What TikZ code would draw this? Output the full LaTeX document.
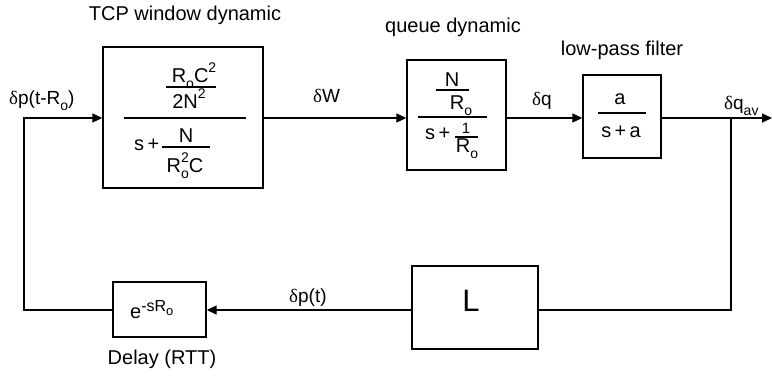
\documentclass[tikz,border=0pt]{standalone}
\usepackage{fontspec}
\setmainfont{Liberation Sans}
\newfontfamily\grk{Liberation Serif}
\usetikzlibrary{arrows.meta}
\newcommand{\dl}{{\grk δ}}
\newcommand{\sbs}[1]{\raisebox{-0.3em}{\fontsize{14}{14}\selectfont #1}}
\newcommand{\sps}[1]{\raisebox{0.5em}{\fontsize{14}{14}\selectfont #1}}
\begin{document}
\begin{tikzpicture}[x=1pt,y=-1pt,
  box/.style={draw, line width=1.4pt, inner sep=0pt},
  wire/.style={line width=1.2pt},
  arr/.style={wire, -{Triangle[length=10pt,width=9pt]}},
  bar/.style={line width=1.1pt},
  title/.style={inner sep=0pt, font=\fontsize{20}{24}\selectfont},
  lab/.style={inner sep=0pt, font=\fontsize{19}{22}\selectfont},
  mth/.style={inner sep=0pt, font=\fontsize{20}{22}\selectfont}]
\useasboundingbox (0,0) rectangle (772,377);
% boxes
\node[box, minimum width=160pt, minimum height=141pt] (tcp) at (183,117.5) {};
\node[box, minimum width=99pt, minimum height=110pt] (queue) at (456.5,115) {};
\node[box, minimum width=78pt, minimum height=83pt] (lpf) at (622,116.5) {};
\node[box, minimum width=126pt, minimum height=83pt] (lbox) at (475,307.5) {};
\node[box, minimum width=93pt, minimum height=55pt] (delay) at (159.5,309.5) {};
% titles
\node[title] (t1) at (185,15) {TCP window dynamic};
\node[title] (t2) at (453,27) {queue dynamic};
\node[title] (t3) at (622,50) {low-pass filter};
\node[title] (t4) at (162,359) {Delay (RTT)};
% TCP transfer function
\node[mth, anchor=base] (n1) at (194,83) {R\sbs{o}C\sps{2}};
\draw[bar] (166,87) -- (216,87);
\node[mth, anchor=base] (n2) at (189,109) {2N\sps{2}};
\draw[bar] (124,118) -- (246,118);
\node[mth, anchor=base west] (n3) at (134,151) {s\,+};
\node[mth, anchor=base] (n4) at (186,143) {N};
\draw[bar] (162,147) -- (210,147);
\node[mth, anchor=base] (n5) at (185,173) {R\rlap{\sps{2}}\sbs{o}C};
% queue transfer function
\node[mth, anchor=base] (q1) at (452,87) {N};
\draw[bar] (436,90) -- (469,90);
\node[mth, anchor=base] (q2) at (461,110) {R\sbs{o}};
\draw[bar] (418,117) -- (487,117);
\node[mth, anchor=base west] (q3) at (425,140) {s\,+};
\node[inner sep=0pt, font=\fontsize{15}{16}\selectfont, anchor=base] (q4) at (466,134) {1};
\draw[bar] (455,137) -- (478,137);
\node[mth, anchor=base] (q5) at (467,153) {R\sbs{o}};
% low-pass filter
\node[mth, anchor=base] (a1) at (620,105) {a};
\draw[bar] (598,113) -- (646,113);
\node[mth, anchor=base] (a2) at (621,138) {s\,+\,a};
% L and delay
\node[inner sep=0pt, font=\fontsize{31}{34}\selectfont, anchor=base] (lt) at (471,312) {L};
\node[inner sep=0pt, font=\fontsize{20}{24}\selectfont, anchor=base west] (dt) at (130,318)
  {e\raisebox{7pt}{\fontsize{16}{18}\selectfont -sR\raisebox{-4pt}{\fontsize{13}{14}\selectfont o}}};
% signal labels
\node[lab, anchor=base west] (l1) at (9,105) {\dl p(t-R\sbs{o})};
\node[lab, anchor=base west] (l2) at (313,103) {\dl W};
\node[lab, anchor=base west] (l3) at (532,106) {\dl q};
\node[lab, anchor=base west] (l4) at (724,110) {\dl q\sbs{av}};
\node[lab, anchor=base west] (l5) at (289,302) {\dl p(t)};
% connectors
\coordinate (main) at (0,118);
\coordinate (outp) at (772,118);
\coordinate (br) at (731,118);
\coordinate (rd) at (731,310);
\coordinate (ld) at (24,310);
\coordinate (lc) at (24,118);
\draw[arr] (tcp.east |- main) -- (queue.west |- main);
\draw[arr] (queue.east |- main) -- (lpf.west |- main);
\draw[arr] (lpf.east |- main) -- (outp);
\draw[wire] (br) -- (rd) -- (lbox.east |- rd);
\draw[arr] (lbox.west |- rd) -- (delay.east |- rd);
\draw[arr] (delay.west |- rd) -- (ld) -- (lc) -- (tcp.west |- main);
\end{tikzpicture}
\end{document}
